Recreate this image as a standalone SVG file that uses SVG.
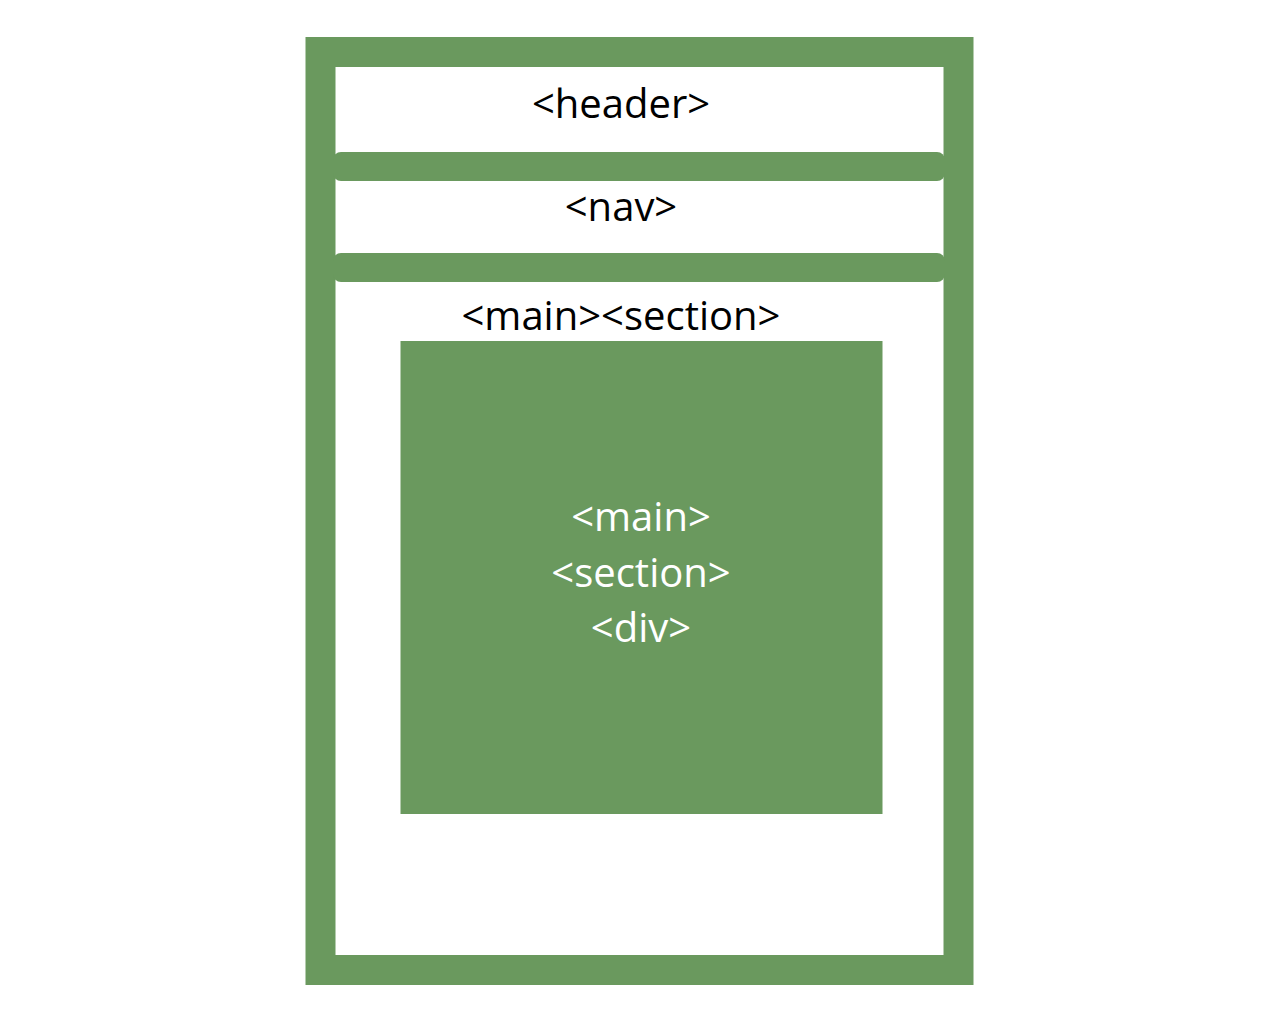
<svg xmlns="http://www.w3.org/2000/svg" width="1280" height="1024" viewBox="0 0 1280 1024">
<style>
.g{fill:#6a995e}
.t{font-family:"Open Sans","Noto Sans",sans-serif;font-size:40px;text-anchor:middle}
.dark{fill:#000}
.light{fill:#fff}
</style>
<rect width="1280" height="1024" fill="#fff"/>
<g id="page">
<rect x="320.5" y="52" width="638" height="918" fill="none" stroke="#6a995e" stroke-width="30"/>
</g>
<g id="header">
<text class="t dark" x="621" y="118">&lt;header&gt;</text>
</g>
<g id="bar1">
<rect class="g" x="333" y="152" width="612" height="29" rx="8"/>
</g>
<g id="nav">
<text class="t dark" x="621" y="221">&lt;nav&gt;</text>
</g>
<g id="bar2">
<rect class="g" x="333" y="253" width="612" height="29" rx="8"/>
</g>
<g id="main">
<text class="t dark" x="621" y="330">&lt;main&gt;&lt;section&gt;</text>
</g>
<g id="div">
<rect class="g" x="400.5" y="341" width="482" height="473"/>
<text class="t light" x="641" y="531">&lt;main&gt;</text>
<text class="t light" x="641" y="587">&lt;section&gt;</text>
<text class="t light" x="641" y="642">&lt;div&gt;</text>
</g>
<g id="connectors"/>
</svg>
